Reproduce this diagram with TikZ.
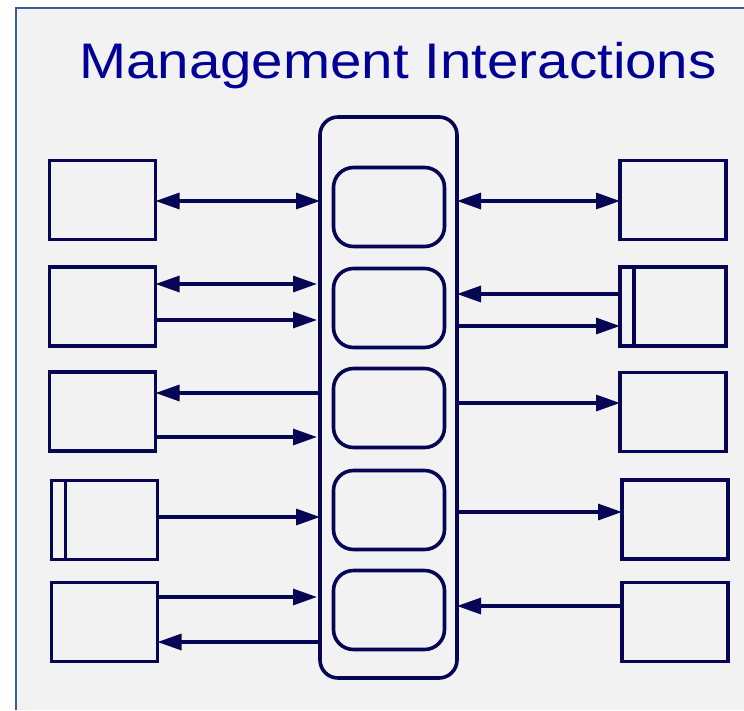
\documentclass[tikz,border=0pt]{standalone}
\usepackage{fontspec}
\setmainfont{Liberation Sans}
\usetikzlibrary{arrows.meta}
\definecolor{navy}{RGB}{6,6,84}
\definecolor{titleblue}{RGB}{0,0,150}
\definecolor{framecol}{RGB}{58,90,154}
\definecolor{bggray}{RGB}{242,242,242}
\begin{document}
\begin{tikzpicture}[x=1pt,y=-1pt,
  box/.style={draw=navy,line width=3.6pt,minimum width=106pt,minimum height=79pt,outer sep=0pt,inner sep=0pt},
  rbox/.style={draw=navy,line width=3.6pt,rounded corners=20pt,minimum width=111pt,minimum height=79pt,outer sep=0pt,inner sep=0pt},
  outerbox/.style={draw=navy,line width=3.6pt,rounded corners=18pt,minimum width=137pt,minimum height=561pt,outer sep=0pt,inner sep=0pt},
  conn/.style={draw=navy,line width=3.2pt},
  tipr/.style={-{Triangle[length=24pt,width=16pt]}},
  tipl/.style={{Triangle[length=24pt,width=16pt]}-},
  tipb/.style={{Triangle[length=24pt,width=16pt]}-{Triangle[length=24pt,width=16pt]}}
]
\useasboundingbox (0,0) rectangle (744,710);
\fill[bggray] (16,8) rectangle (744,710);
\draw[framecol,line width=2pt] (16,710) -- (16,8) -- (744,8);

\node[text=titleblue,font=\fontsize{50}{56}\selectfont,anchor=base,xscale=1.13] (title) at (398,78) {Management Interactions};

% central column
\node[outerbox] (M) at (388.5,397.5) {};
\node[rbox] (C1) at (389,207) {};
\node[rbox] (C2) at (389,308) {};
\node[rbox] (C3) at (389,408) {};
\node[rbox] (C4) at (389,510) {};
\node[rbox] (C5) at (389,610) {};

% left boxes
\node[box] (L1) at (102.5,200) {};
\node[box] (L2) at (102.5,306.5) {};
\node[box] (L3) at (102.5,411.5) {};
\node[box] (L4) at (104.5,520) {};
\node[box] (L5) at (104.5,622) {};
% right boxes
\node[box] (R1) at (673,200) {};
\node[box] (R2) at (673,306.5) {};
\node[box] (R3) at (673,412) {};
\node[box] (R4) at (675,519.5) {};
\node[box] (R5) at (675,622) {};

% extra bars
\draw[navy,line width=3.6pt] ([xshift=14pt]L4.north west) -- ([xshift=14pt]L4.south west);
\draw[navy,line width=3.6pt] ([xshift=14pt]R2.north west) -- ([xshift=14pt]R2.south west);

% left connectors
\coordinate (l1) at ([yshift=-1pt]L1.east);
\coordinate (l2a) at ([yshift=22.5pt]L2.east);
\coordinate (l2b) at ([yshift=-13.5pt]L2.east);
\coordinate (l3a) at ([yshift=18.5pt]L3.east);
\coordinate (l3b) at ([yshift=-25.5pt]L3.east);
\coordinate (l4) at ([yshift=3pt]L4.east);
\coordinate (l5a) at ([yshift=25pt]L5.east);
\coordinate (l5b) at ([yshift=-20pt]L5.east);

\draw[conn,tipb] (l1) -- (l1 -| M.west);
\draw[conn,tipb] (l2a) -- ([xshift=-3pt]l2a -| M.west);
\draw[conn,tipr] (l2b) -- ([xshift=-3pt]l2b -| M.west);
\draw[conn,tipl] (l3a) -- (l3a -| M.west);
\draw[conn,tipr] (l3b) -- ([xshift=-3pt]l3b -| M.west);
\draw[conn,tipr] (l4) -- (l4 -| M.west);
\draw[conn,tipr] (l5a) -- ([xshift=-3pt]l5a -| M.west);
\draw[conn,tipl] (l5b) -- (l5b -| M.west);

% right connectors
\coordinate (r1) at ([yshift=-1pt]R1.west);
\coordinate (r2a) at ([yshift=12.5pt]R2.west);
\coordinate (r2b) at ([yshift=-19.5pt]R2.west);
\coordinate (r3) at ([yshift=9pt]R3.west);
\coordinate (r4) at ([yshift=7.5pt]R4.west);
\coordinate (r5) at ([yshift=16pt]R5.west);

\draw[conn,tipb] (r1 -| M.east) -- (r1);
\draw[conn,tipl] (r2a -| M.east) -- (r2a);
\draw[conn,tipr] (r2b -| M.east) -- (r2b);
\draw[conn,tipr] (r3 -| M.east) -- (r3);
\draw[conn,tipr] (r4 -| M.east) -- (r4);
\draw[conn,tipl] (r5 -| M.east) -- (r5);
\end{tikzpicture}
\end{document}
